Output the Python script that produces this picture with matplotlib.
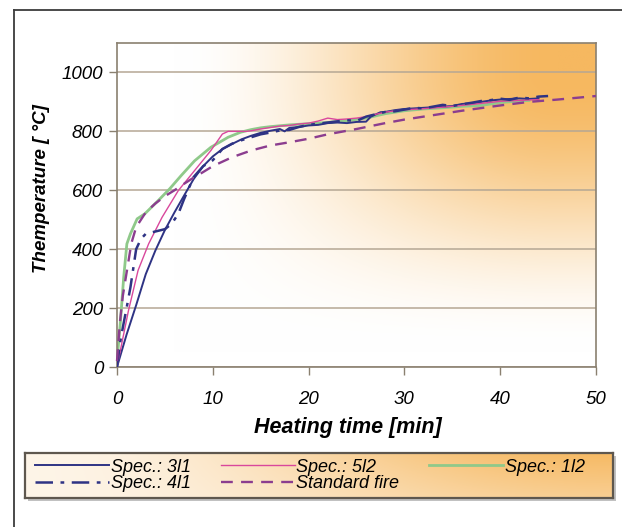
import numpy as np
import matplotlib
matplotlib.use("Agg")
import matplotlib.pyplot as plt
from matplotlib.lines import Line2D
from matplotlib.patches import Rectangle

plt.rcParams['font.family'] = ['Liberation Sans', 'DejaVu Sans']

W, H = 622, 527  # picture size in pixels

# Spec.: 3l1 (solid navy)
t_3l1 = [0, 1, 2, 3, 4, 5, 6, 7, 8, 9, 10, 11, 12, 13, 14, 15, 16, 17, 17.5, 18, 19, 20,
         21, 22, 23, 24, 25, 26, 26.5, 27.5, 28, 29, 30, 31, 32, 33, 34, 35, 36, 37, 38,
         39, 40, 41, 42, 43, 44]
T_3l1 = [0, 110, 210, 315, 395, 465, 525, 582, 638, 682, 715, 740, 757, 773, 785, 795, 802,
         808, 800, 812, 815, 820, 822, 828, 830, 828, 832, 833, 850, 865, 866, 872, 876, 878,
         880, 882, 884, 886, 893, 895, 900, 905, 908, 910, 912, 910, 912]

# Spec.: 5l2 (thin pink)
t_5l2 = [0, 0.5, 1.2, 2.2, 3.3, 4.7, 6.4, 8.1, 9.8, 11, 11.6, 13.5, 14, 15, 16, 17, 18, 19,
         20, 21, 22, 23, 24, 25, 26, 27, 28, 29, 30, 32, 34, 36, 38, 40, 42, 44]
T_5l2 = [0, 80, 192, 328, 418, 508, 599, 667, 735, 791, 800, 800, 802, 808, 813, 818, 820,
         825, 828, 835, 845, 840, 842, 845, 850, 858, 865, 870, 873, 877, 882, 888, 895,
         902, 905, 908]

# Spec.: 1l2 (green)
t_1l2 = [0, 0.34, 0.7, 1.03, 1.4, 2.1, 2.9, 4.3, 5.5, 6.7, 8.1, 9.8, 11.6, 12.9, 14, 15, 16,
         18, 20, 22, 24, 26, 28, 30, 32, 34, 36, 38, 40, 42, 43]
T_1l2 = [20, 147, 305, 418, 452, 503, 520, 565, 605, 650, 700, 746, 780, 797, 806, 812, 816,
         822, 826, 830, 836, 845, 860, 870, 876, 880, 885, 888, 898, 903, 905]

# Spec.: 4l1 (dash-dot navy)
t_4l1 = [0, 0.3, 0.7, 1, 1.4, 2, 2.5, 3, 4, 5, 5.7, 6.4, 7, 8, 9, 10, 11, 12, 13, 14, 15, 16,
         17, 18, 19, 20, 22, 24, 25, 26, 27, 28, 29, 30, 31, 32, 33, 34, 35, 36, 37, 38, 39,
         40, 41, 42, 43, 44, 45]
T_4l1 = [0, 80, 150, 200, 270, 400, 435, 452, 460, 468, 486, 520, 570, 645, 682, 702, 740,
         758, 770, 780, 790, 796, 803, 805, 815, 822, 830, 838, 835, 850, 858, 866, 868, 874,
         880, 878, 884, 890, 886, 892, 897, 903, 906, 911, 907, 915, 912, 918, 920]

# Standard fire (dashed purple)
t_std = [0, 0.3, 0.6, 1, 1.5, 2, 3, 4, 5, 6, 7, 8, 9, 10, 12, 14, 16, 18, 20, 22, 25, 28, 30,
         33, 36, 40, 43, 46, 50]
T_std = [20, 150, 240, 320, 420, 475, 525, 555, 580, 600, 622, 643, 662, 682, 712, 735, 752,
         763, 775, 790, 808, 828, 840, 855, 870, 888, 900, 908, 920]

x_ticks = [0, 10, 20, 30, 40, 50]
y_ticks = [0, 200, 400, 600, 800, 1000]

orange = np.array([246, 184, 96]) / 255.0
spine_col = '#8a8070'


def fx(px):
    return px / W


def fy(py):
    return 1 - py / H


def smooth(a):
    a = np.clip(a, 0, 1)
    return a * a * (3 - 2 * a)


fig = plt.figure(figsize=(W / 100, H / 100), dpi=100)
fig.patch.set_facecolor('white')

# outer frame (cut off at right and bottom)
fig.add_artist(Line2D([fx(14), 1.0], [fy(10), fy(10)], color='#3c3c3c', lw=1.3))
fig.add_artist(Line2D([fx(14), fx(14)], [fy(10), 0.0], color='#3c3c3c', lw=1.3))

ax = fig.add_axes([fx(117), fy(367), (596 - 117) / W, (367 - 43) / H])

# orange gradient background
gx, gy = np.meshgrid(np.linspace(0, 1, 300), np.linspace(1, 0, 200))
alpha = smooth((gx - 0.12) / 0.8) * smooth((gy - 0.05) / 0.85)
img = np.ones((200, 300, 3)) * (1 - alpha[..., None]) + orange * alpha[..., None]
ax.imshow(img, extent=[0, 1, 0, 1], transform=ax.transAxes, aspect='auto', zorder=0)

ax.plot(t_3l1, T_3l1, color='#2e3384', lw=1.4, label='Spec.: 3l1', zorder=3)
ax.plot(t_5l2, T_5l2, color='#d9479c', lw=1.0, label='Spec.: 5l2', zorder=3)
ax.plot(t_1l2, T_1l2, color='#8fc98a', lw=2.0, label='Spec.: 1l2', zorder=2)
ax.plot(t_4l1, T_4l1, color='#2e3384', lw=1.8, dashes=(7, 3, 1.5, 3), label='Spec.: 4l1', zorder=3)
ax.plot(t_std, T_std, color='#8b3d8f', lw=1.7, dashes=(5, 3.5), label='Standard fire', zorder=3,
        clip_on=False)

ax.set_xlim(0, 50)
ax.set_ylim(0, 1100)
ax.set_xticks(x_ticks)
ax.set_yticks(y_ticks)
ax.grid(axis='y', color='#b5a794', lw=1.1)
ax.set_axisbelow(True)
for s in ax.spines.values():
    s.set_color(spine_col)
    s.set_linewidth(1.2)
ax.tick_params(axis='both', direction='out', length=6, color=spine_col, width=1.0,
               labelsize=13.5)
ax.tick_params(axis='x', pad=11)
ax.tick_params(axis='y', pad=4)
for lab in ax.get_xticklabels() + ax.get_yticklabels():
    lab.set_fontstyle('italic')

ax.set_xlabel('Heating time [min]', fontsize=15.5, fontweight='bold', fontstyle='italic')
ax.set_ylabel('Themperature [ °C]', fontsize=13.5, fontweight='bold', fontstyle='italic')
ax.xaxis.label.set_va('center')
ax.xaxis.set_label_coords(0.482, -0.188)
ax.yaxis.label.set_va('center')
ax.yaxis.set_label_coords(-0.157, 0.55)

# legend box with shadow and gradient
lx0, lx1, ly0, ly1 = 25, 613, 453, 498
fig.add_artist(Rectangle((fx(lx0 + 3), fy(ly1 + 3)), (lx1 - lx0) / W, (ly1 - ly0) / H,
                         transform=fig.transFigure, facecolor='#999999', alpha=0.6,
                         edgecolor='none', zorder=1))
lax = fig.add_axes([fx(lx0), fy(ly1), (lx1 - lx0) / W, (ly1 - ly0) / H], zorder=2)
lgx, lgy = np.meshgrid(np.linspace(0, 1, 300), np.linspace(1, 0, 30))
la = 0.15 + 0.82 * smooth(lgx) * (0.65 + 0.35 * lgy)
limg = np.ones((30, 300, 3)) * (1 - la[..., None]) + orange * la[..., None]
lax.imshow(limg, extent=[0, 1, 0, 1], aspect='auto')
lax.set_xticks([])
lax.set_yticks([])
for s in lax.spines.values():
    s.set_color('#5e574e')
    s.set_linewidth(1.6)

handles, labels = ax.get_legend_handles_labels()
order = [0, 3, 1, 4, 2]
leg = fig.legend([handles[i] for i in order], [labels[i] for i in order], ncol=3,
                 loc='center', bbox_to_anchor=(fx(33), fy(ly1), (587 - 33) / W,
                                               (ly1 - ly0) / H),
                 mode='expand', frameon=False, handlelength=4.1, handletextpad=0.1,
                 labelspacing=0.0, borderaxespad=0, borderpad=0.1, columnspacing=1.5,
                 prop={'size': 13, 'style': 'italic'})
leg.set_zorder(5)

fig.savefig('out.png', dpi=100)
